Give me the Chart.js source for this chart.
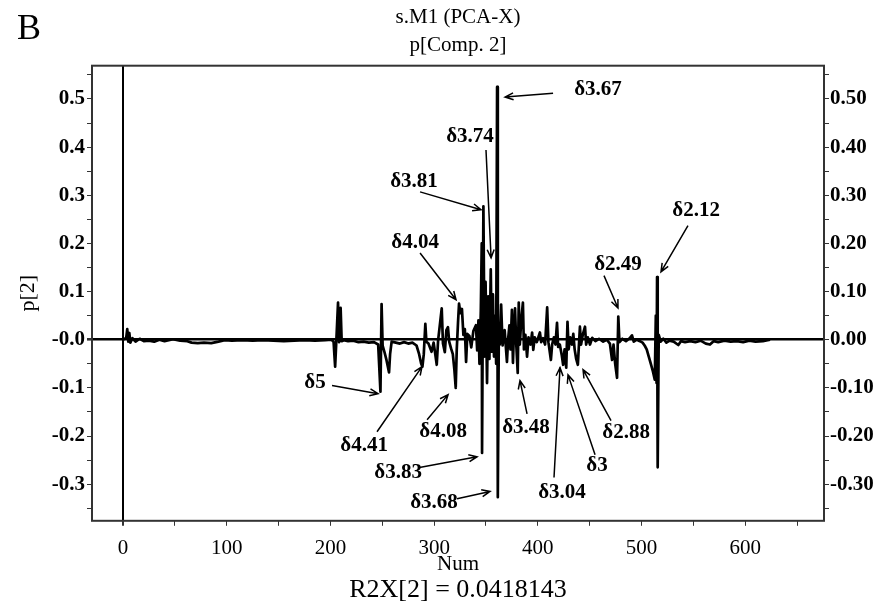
<!DOCTYPE html>
<html lang="en">
<head>
    <meta charset="utf-8"/>
    <title>s.M1 (PCA-X) p[Comp. 2]</title>
    <script src="https://cdn.jsdelivr.net/npm/chart.js"></script>
    <style>
        body {
            margin: 0;
            background: #fff;
        }
        #wrap {
            width: 881px;
            height: 607px;
        }
    </style>
</head>
<body>
    <div id="wrap"><canvas id="chart" width="881" height="607"></canvas></div>

    <script>
        // loading p[2] against variable number (Num)
        const num = [
            0, 3, 4, 5, 6, 7, 9, 12, 16, 20, 25, 30, 35, 40, 48, 55, 62, 66, 72, 78, 85, 92, 98,
            105, 115, 125, 135, 145, 155, 165, 175, 185, 195, 201, 203, 204.5, 205.5, 207.3, 208.3,
            209.8, 210.8, 213, 217, 222, 227, 232, 237, 242, 246, 248.2, 249.3, 250.3, 252, 254,
            256.5, 257.5, 259, 263, 267, 271, 275, 279, 283, 285.5, 287.5, 288.7, 290, 291.5, 292.5,
            294.5, 297.5, 299.5, 302.5, 303.8, 307.3, 308.5, 310.3, 311.8, 313.3, 314.5, 316.3, 318,
            319.5, 320.8, 321.8, 323, 324, 325.3, 326.8, 328.2, 329.6, 330.8, 332, 334, 335.8, 337.8,
            340.3, 341.5, 342.7, 343.7, 345, 345.9, 346.2, 347.5, 348.6, 349.6, 351, 352.2, 353.3,
            354.6, 355.6, 356.7, 357.7, 358.8, 359.8, 360.7, 361.4, 362.4, 363.3, 364.6, 366, 368,
            370.2, 371.3, 372.6, 373.6, 375, 376, 377, 378, 379.2, 380.6, 381.6, 382.6, 384, 385.6,
            386.6, 388, 389.6, 391, 393, 394.5, 395.6, 397, 399, 402, 403.2, 405, 407, 409, 410.2,
            412.6, 413.8, 415.5, 417, 418.5, 419.6, 421.2, 423, 424.4, 425.8, 427.4, 428.6, 429.7,
            431.2, 433, 434.2, 435.5, 437, 438.6, 440.6, 441.7, 443.3, 445.5, 446.6, 448.2, 450.3,
            452.5, 455.5, 459, 463, 466.5, 469.5, 471.6, 473, 474.6, 476.4, 477.6, 478.7, 481.5, 485,
            488.5, 490.8, 492.5, 495.5, 498.5, 501, 503, 505, 507, 509, 511, 512.8, 513.8, 514.5, 515,
            515.6, 516.6, 518.5, 521, 524, 527, 531, 535.5, 538, 542, 547, 552, 557, 562, 566, 569.5,
            574, 580, 586, 592, 598, 604, 610, 617, 624
        ];
        const p2 = [
            0, 0.004, 0.022, -0.004, 0.014, -0.006, 0.003, -0.004, 0.002, -0.003, -0.002, -0.004, 0, -0.003, 0.001, -0.002, -0.003, -0.006, -0.007, -0.006, -0.007, -0.004, -0.001,
            -0.002, -0.001, -0.002, -0.001, -0.002, -0.003, -0.002, -0.001, -0.002, -0.001, 0, -0.004, -0.056, -0.01, 0.077, -0.005,
            0.066, -0.003, -0.001, -0.003, -0.002, -0.005, -0.004, -0.006, -0.005, -0.01, -0.108, 0.074, -0.012, -0.025, -0.042,
            -0.068, -0.03, -0.004, -0.006, -0.008, -0.005, -0.008, -0.006, -0.012, -0.03, -0.05, -0.056, -0.03, 0.033, -0.004,
            -0.008, -0.025, -0.006, -0.052, -0.002, 0.065, -0.008, -0.026, 0.02, 0.026, -0.004, -0.018, -0.03,
            -0.062, -0.1, -0.02, 0.035, 0.075, 0.055, 0.064, 0.01, 0.022, -0.046, 0.012, 0.008, -0.016, 0.018,
            0.03, -0.022, 0.04, -0.05, 0.06, 0.2, -0.235, 0.277, -0.035, 0.12, -0.09, 0.09, -0.04,
            0.146, -0.025, 0.094, -0.035, 0.05, -0.05, 0.525, -0.327, 0.02, -0.01, 0.073, -0.012, 0.02,
            -0.046, 0, 0.03, -0.02, 0.062, -0.048, 0.02, 0.065, -0.01, -0.069, 0.077, -0.01, 0.04, 0.077,
            -0.02, 0.01, -0.035, 0.005, -0.01, 0.015, -0.021, 0.005, -0.005, 0.015, -0.005, 0.003, -0.01, 0.067, -0.005,
            -0.042, -0.01, 0.005, -0.01, 0.035, -0.015, -0.01, -0.031, -0.052, -0.02, -0.058, 0.037, -0.02,
            0.005, -0.01, 0.012, -0.02, -0.04, -0.052, 0.027, -0.01, 0.01, 0.027, -0.01, 0.005, -0.01,
            0.004, -0.003, 0.002, -0.004, 0, -0.008, -0.042, -0.01, -0.05, -0.079, 0.048, -0.005, 0.002, -0.003,
            0.003, 0.009, -0.004, 0, -0.003, -0.006, -0.012, -0.02, -0.035, -0.05, -0.066, -0.083, 0.05, -0.09, 0.13,
            -0.265, 0.01, -0.004, 0.002, -0.006, -0.002, -0.004, -0.011, -0.003, -0.005, -0.003, -0.005, -0.002, -0.008, -0.01, -0.003,
            -0.005, -0.002, -0.004, -0.003, -0.005, -0.002, -0.004, -0.003, 0
        ];

        // tick positions
        const xTicks = [0, 50, 100, 150, 200, 250, 300, 350, 400, 450, 500, 550, 600, 650];
        const yTicks = [-0.35, -0.3, -0.25, -0.2, -0.15, -0.1, -0.05, 0, 0.05, 0.1, 0.15, 0.2, 0.25, 0.3, 0.35, 0.4, 0.45, 0.5, 0.55];

        // peak labels: text, arrow tip, arrow tail, label centre (all in Num / p[2] units)
        const notes = [
            { text: 'δ3.67', tip: [368.4, 0.504], tail: [414.7, 0.512], at: [458, 0.519] },
            { text: 'δ3.74', tip: [354.9, 0.170], tail: [350, 0.394], at: [334.6, 0.421] },
            { text: 'δ3.81', tip: [345.2, 0.270], tail: [286.4, 0.307], at: [280.6, 0.328] },
            { text: 'δ4.04', tip: [321.1, 0.083], tail: [286.4, 0.180], at: [281.6, 0.201] },
            { text: 'δ2.49', tip: [477.3, 0.066], tail: [463.8, 0.133], at: [477.3, 0.156] },
            { text: 'δ2.12', tip: [518.8, 0.141], tail: [544.8, 0.237], at: [552.6, 0.268] },
            { text: 'δ5', tip: [245.9, -0.112], tail: [201.5, -0.095], at: [185.1, -0.089] },
            { text: 'δ4.41', tip: [288.3, -0.056], tail: [244.9, -0.191], at: [232.4, -0.220] },
            { text: 'δ4.08', tip: [313.4, -0.114], tail: [293.2, -0.166], at: [308.6, -0.191] },
            { text: 'δ3.83', tip: [341.4, -0.243], tail: [284.5, -0.266], at: [265.2, -0.276] },
            { text: 'δ3.68', tip: [353.9, -0.315], tail: [322.1, -0.330], at: [299.9, -0.338] },
            { text: 'δ3.48', tip: [382.8, -0.085], tail: [389.6, -0.154], at: [388.6, -0.183] },
            { text: 'δ3.04', tip: [421.4, -0.058], tail: [415.6, -0.286], at: [423.3, -0.317] },
            { text: 'δ3', tip: [429.1, -0.073], tail: [455.2, -0.239], at: [457.1, -0.261] },
            { text: 'δ2.88', tip: [443.6, -0.062], tail: [470.6, -0.168], at: [485.1, -0.193] }
        ];

        const serif = '"Liberation Serif", "Times New Roman", serif';

        const plotDecor = {
            id: 'plotDecor',
            afterDatasetsDraw(chart) {
                const { ctx, chartArea: a, scales: { x, y } } = chart;
                ctx.save();
                // frame
                ctx.strokeStyle = '#333';
                ctx.lineWidth = 2;
                ctx.strokeRect(a.left, a.top, a.right - a.left, a.bottom - a.top);

                // arrows + labels
                ctx.strokeStyle = '#000';
                ctx.fillStyle = '#000';
                ctx.lineWidth = 1.5;
                ctx.font = 'bold 21px ' + serif;
                ctx.textAlign = 'center';
                ctx.textBaseline = 'middle';
                notes.forEach(n => {
                    const x0 = x.getPixelForValue(n.tail[0]), y0 = y.getPixelForValue(n.tail[1]);
                    const x1 = x.getPixelForValue(n.tip[0]), y1 = y.getPixelForValue(n.tip[1]);
                    const ang = Math.atan2(y1 - y0, x1 - x0);
                    ctx.beginPath();
                    ctx.moveTo(x0, y0);
                    ctx.lineTo(x1, y1);
                    ctx.moveTo(x1 - 9 * Math.cos(ang - 0.4), y1 - 9 * Math.sin(ang - 0.4));
                    ctx.lineTo(x1, y1);
                    ctx.lineTo(x1 - 9 * Math.cos(ang + 0.4), y1 - 9 * Math.sin(ang + 0.4));
                    ctx.stroke();
                    ctx.fillText(n.text, x.getPixelForValue(n.at[0]), y.getPixelForValue(n.at[1]));
                });
                ctx.restore();
            },
            afterDraw(chart) {
                const { ctx } = chart;
                ctx.save();
                ctx.fillStyle = '#000';
                ctx.font = '36px ' + serif;
                ctx.textAlign = 'left';
                ctx.textBaseline = 'alphabetic';
                ctx.fillText('B', 17, 39);
                ctx.restore();
            }
        };

        const zeroLine = () => (c) => (c.tick && c.tick.value === 0 ? '#000' : 'rgba(0,0,0,0)');
        const zeroWidth = (w) => (c) => (c.tick && c.tick.value === 0 ? w : 1);

        new Chart(document.getElementById('chart').getContext('2d'), {
            type: 'line',
            data: {
                datasets: [{
                    data: num.map((v, i) => ({ x: v, y: p2[i] })),
                    borderColor: '#000',
                    borderWidth: 2.7,
                    borderJoinStyle: 'round',
                    pointRadius: 0,
                    fill: false,
                    tension: 0
                }]
            },
            options: {
                responsive: false,
                animation: false,
                layout: { padding: 0 },
                plugins: {
                    legend: { display: false },
                    tooltip: { enabled: false },
                    title: {
                        display: true,
                        fullSize: false,
                        text: ['s.M1 (PCA-X)', 'p[Comp. 2]'],
                        color: '#000',
                        font: { family: serif, size: 21, weight: 'normal', lineHeight: 1.35 },
                        padding: { top: 3, bottom: 6 }
                    },
                    subtitle: {
                        display: true,
                        fullSize: false,
                        position: 'bottom',
                        text: 'R2X[2] = 0.0418143',
                        color: '#000',
                        font: { family: serif, size: 26, weight: 'normal', lineHeight: 1.2 },
                        padding: { top: 0, bottom: 1 }
                    }
                },
                scales: {
                    x: {
                        type: 'linear',
                        min: -30,
                        max: 676,
                        afterBuildTicks: s => { s.ticks = xTicks.map(v => ({ value: v })); },
                        afterFit: s => { s.height = 54; },
                        border: { display: false },
                        grid: {
                            drawOnChartArea: true,
                            color: zeroLine(),
                            lineWidth: zeroWidth(2),
                            tickColor: '#333',
                            tickLength: 5
                        },
                        ticks: {
                            autoSkip: false,
                            maxRotation: 0,
                            padding: 10,
                            color: '#000',
                            font: { family: serif, size: 21 },
                            callback: v => (v % 100 === 0 ? String(v) : '')
                        },
                        title: {
                            display: true,
                            text: 'Num',
                            color: '#000',
                            font: { family: serif, size: 21, lineHeight: 1 },
                            padding: { top: 0, bottom: 0 }
                        }
                    },
                    y: {
                        position: 'left',
                        min: -0.376,
                        max: 0.569,
                        afterBuildTicks: s => { s.ticks = yTicks.map(v => ({ value: v })); },
                        afterFit: s => { s.width = 92; },
                        border: { display: false },
                        grid: {
                            drawOnChartArea: true,
                            color: zeroLine(),
                            lineWidth: zeroWidth(2.6),
                            tickColor: '#333',
                            tickLength: 5
                        },
                        ticks: {
                            autoSkip: false,
                            padding: 2,
                            color: '#000',
                            font: { family: serif, size: 21, weight: 'bold' },
                            callback: v => {
                                const r = Math.round(v * 100);
                                if (r % 10 !== 0) return '';
                                return r === 0 ? '-0.0' : (r / 100).toFixed(1);
                            }
                        },
                        title: {
                            display: true,
                            text: 'p[2]',
                            color: '#000',
                            font: { family: serif, size: 22, lineHeight: 1 },
                            padding: { top: 17, bottom: 0 }
                        }
                    },
                    y2: {
                        position: 'right',
                        min: -0.376,
                        max: 0.569,
                        afterBuildTicks: s => { s.ticks = yTicks.map(v => ({ value: v })); },
                        afterFit: s => { s.width = 57; },
                        border: { display: false },
                        grid: {
                            drawOnChartArea: false,
                            tickColor: '#333',
                            tickLength: 5
                        },
                        ticks: {
                            autoSkip: false,
                            padding: 1,
                            color: '#000',
                            font: { family: serif, size: 21, weight: 'bold' },
                            callback: v => {
                                const r = Math.round(v * 100);
                                if (r % 10 !== 0) return '';
                                return (r / 100).toFixed(2);
                            }
                        }
                    }
                }
            },
            plugins: [plotDecor]
        });
    </script>
</body>
</html>
